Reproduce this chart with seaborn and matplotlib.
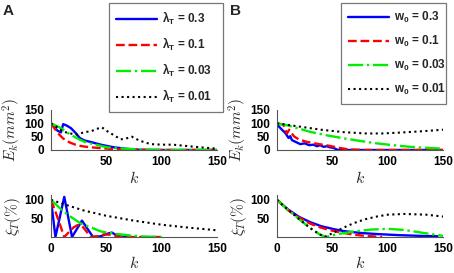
import matplotlib
matplotlib.use("Agg")
import matplotlib.pyplot as plt
import seaborn as sns
import numpy as np

# ---------------- data ----------------
# Panel A, top: E_k (mm^2)
kA_t_03 = [0, 3, 6, 9, 11, 14, 18, 22, 26, 30, 36, 45, 52, 57, 63, 69, 80, 100, 150]
EA_t_03 = [100, 85, 72, 66, 97, 92, 82, 65, 45, 36, 30, 20, 14, 10, 7, 4, 1, 0, 0]
kA_t_01 = [0, 3, 6, 11, 17, 24, 30, 36, 45, 57, 70, 90, 150]
EA_t_01 = [100, 82, 64, 43, 28, 17, 13, 10, 7, 3, 1, 0, 0]
kA_t_003 = [0, 5, 9, 14, 18, 24, 30, 39, 51, 66, 80, 100, 150]
EA_t_003 = [100, 90, 82, 67, 57, 43, 31, 21, 10, 5, 2, 0, 0]
kA_t_001 = [0, 4, 10, 15, 20, 24, 30, 36, 42, 46, 51, 57, 63, 67, 73, 80, 90, 100, 110, 120, 135, 150]
EA_t_001 = [100, 90, 72, 64, 60, 58, 67, 70, 80, 85, 70, 55, 40, 42, 50, 35, 22, 20, 20, 16, 10, 5]

# Panel A, bottom: xi_T (%)
kA_b_03 = [0, 4, 12, 19, 28, 38, 45, 50, 55, 60, 65, 70]
XA_b_03 = [100, 0, 108, 0, 44, 0, 2, 8, 12, 3, 0, 0]
kA_b_01 = [0, 5, 12, 20, 24, 28, 36, 42, 48, 55, 62, 70, 100]
XA_b_01 = [100, 60, 0, 25, 32, 30, 0, 2, 7, 6, 0, 0, 0]
kA_b_003 = [0, 10, 18, 27, 36, 45, 57, 72, 85, 100]
XA_b_003 = [100, 72, 54, 36, 26, 15, 9, 4, 1, 0]
kA_b_001 = [0, 15, 30, 50, 75, 100, 125, 150]
XA_b_001 = [100, 85, 71, 57, 44, 33, 25, 18]

# Panel B, top: E_k (mm^2)
kB_t_03 = [0, 1.5, 4.5, 7.5, 10.5, 12, 13.5, 16.5, 21, 25, 29, 33, 36, 39, 42, 45, 48, 51, 55, 70, 150]
EB_t_03 = [100, 89, 76, 64, 45, 52, 37, 31, 22, 25, 18, 20, 14, 18, 12, 14, 10, 8, 0, 0, 0]
kB_t_01 = [0, 5.7, 9, 11, 15.4, 20, 27.5, 36.6, 45.6, 51.6, 57.6, 65, 80, 150]
EB_t_01 = [100, 95, 62, 76, 51, 39, 30, 23, 17, 12, 7, 2, 0, 0]
kB_t_003 = [0, 10, 20, 30, 45, 60, 75, 90, 105, 120, 135, 150]
EB_t_003 = [100, 92, 80, 68, 55, 44, 34, 25, 18, 12, 8, 5]
kB_t_001 = [0, 20, 40, 60, 80, 95, 110, 130, 150]
EB_t_001 = [100, 88, 76, 67, 62, 62, 65, 70, 76]

# Panel B, bottom: xi_T (%)
kB_b_03 = [0, 10, 20, 30, 40, 50, 60, 75, 90, 110, 130, 145]
XB_b_03 = [100, 74, 54, 40, 29, 22, 16, 11, 8, 5, 3, 2]
kB_b_01 = [0, 10, 20, 30, 40, 50, 60, 70, 80, 95]
XB_b_01 = [100, 72, 52, 36, 25, 17, 11, 6, 3, 0]
kB_b_003 = [0, 10, 20, 30, 38, 44, 55, 70, 85, 100, 115, 130, 150]
XB_b_003 = [100, 73, 48, 24, 8, 0, 8, 15, 20, 22, 19, 12, 3]
kB_b_001 = [0, 10, 20, 30, 38, 43, 50, 60, 70, 80, 90, 100, 115, 135, 150]
XB_b_001 = [100, 73, 48, 24, 8, 0, 10, 25, 38, 48, 55, 60, 62, 60, 55]

labels_A = ["λ$_\\mathbf{T}$ = 0.3", "λ$_\\mathbf{T}$ = 0.1",
            "λ$_\\mathbf{T}$ = 0.03", "λ$_\\mathbf{T}$ = 0.01"]
labels_B = ["w$_\\mathbf{0}$ = 0.3", "w$_\\mathbf{0}$ = 0.1",
            "w$_\\mathbf{0}$ = 0.03", "w$_\\mathbf{0}$ = 0.01"]

# ---------------- style ----------------
sns.set_style("white")
plt.rcParams["font.family"] = ["Liberation Sans", "DejaVu Sans"]
plt.rcParams["font.weight"] = "bold"
plt.rcParams["mathtext.fontset"] = "custom"
plt.rcParams["mathtext.rm"] = "Liberation Sans:bold"
plt.rcParams["mathtext.bf"] = "Liberation Sans:bold"
plt.rcParams["mathtext.it"] = "Liberation Sans:italic:bold"
plt.rcParams["mathtext.sf"] = "Liberation Sans:bold"

colors = ["#0000ff", "#ff0000", "#00ee00", "#000000"]
styles = ["-", "--", "-.", ":"]
widths = [1.7, 1.7, 1.7, 1.5]

W, H = 454, 273
fig = plt.figure(figsize=(W / 100, H / 100), dpi=100)


def axrect(x0, x1, y0, y1):
    return [x0 / W, 1 - y1 / H, (x1 - x0) / W, (y1 - y0) / H]


axA_t = fig.add_axes(axrect(51, 217, 110, 150))
axA_b = fig.add_axes(axrect(51, 217, 195, 237))
axB_t = fig.add_axes(axrect(277, 443, 110, 150))
axB_b = fig.add_axes(axrect(277, 443, 195, 237))

series = {
    axA_t: [(kA_t_03, EA_t_03), (kA_t_01, EA_t_01), (kA_t_003, EA_t_003), (kA_t_001, EA_t_001)],
    axA_b: [(kA_b_03, XA_b_03), (kA_b_01, XA_b_01), (kA_b_003, XA_b_003), (kA_b_001, XA_b_001)],
    axB_t: [(kB_t_03, EB_t_03), (kB_t_01, EB_t_01), (kB_t_003, EB_t_003), (kB_t_001, EB_t_001)],
    axB_b: [(kB_b_03, XB_b_03), (kB_b_01, XB_b_01), (kB_b_003, XB_b_003), (kB_b_001, XB_b_001)],
}

for ax, ser in series.items():
    for i, (kk, vv) in enumerate(ser):
        sns.lineplot(x=kk, y=vv, ax=ax, color=colors[i], linestyle=styles[i],
                     linewidth=widths[i], legend=False, sort=False)
    ax.set_xlim(0, 150)
    for s in ["top", "right"]:
        ax.spines[s].set_visible(False)
    for s in ["left", "bottom"]:
        ax.spines[s].set_color("#555555")
        ax.spines[s].set_linewidth(0.8)
    ax.tick_params(direction="in", length=2, width=0.6, labelsize=8.5,
                   colors="#555555", labelcolor="black")
    ax.tick_params(axis="x", pad=4)
    ax.tick_params(axis="y", pad=5)

for ax in (axA_t, axB_t):
    ax.set_ylim(0, 150)
    ax.set_yticks([0, 50, 100, 150])
    ax.set_xticks([50, 100, 150])
    ax.set_ylabel(r"$E_k(mm^2)$", fontsize=11, math_fontfamily="cm", labelpad=1)
    ax.set_xlabel(r"$k$", fontsize=11.5, math_fontfamily="cm", labelpad=2)

for ax in (axA_b, axB_b):
    ax.set_ylim(0, 113)
    ax.set_yticks([50, 100])
    ax.set_xticks([0, 50, 100, 150])
    ax.set_ylabel(r"$\xi_T(\%)$", fontsize=11, math_fontfamily="cm", labelpad=1)
    ax.set_xlabel(r"$k$", fontsize=11.5, math_fontfamily="cm", labelpad=0)

for ax in series:
    for t in ax.get_xticklabels() + ax.get_yticklabels():
        t.set_fontweight("bold")

# legends
for ax, labels, (lx0, lx1) in ((axA_t, labels_A, (109, 223)), (axB_t, labels_B, (341, 446))):
    handles = ax.get_lines()[:4]
    leg = fig.legend(handles, labels, loc="upper left",
                     bbox_to_anchor=(lx0 / W, 1 - 3 / H, (lx1 - lx0) / W, 0.0),
                     mode="expand", frameon=True, fancybox=False, fontsize=8.5,
                     borderpad=0.6, labelspacing=0.75, handlelength=3.5,
                     handletextpad=0.4, borderaxespad=0.0)
    leg.get_frame().set_edgecolor("#555555")
    leg.get_frame().set_linewidth(0.9)
    for t in leg.get_texts():
        t.set_fontweight("bold")

fig.text(3 / W, 1 - 15 / H, "A", fontsize=11, fontweight="bold")
fig.text(230 / W, 1 - 15 / H, "B", fontsize=11, fontweight="bold")

fig.savefig("out.png", dpi=100)
